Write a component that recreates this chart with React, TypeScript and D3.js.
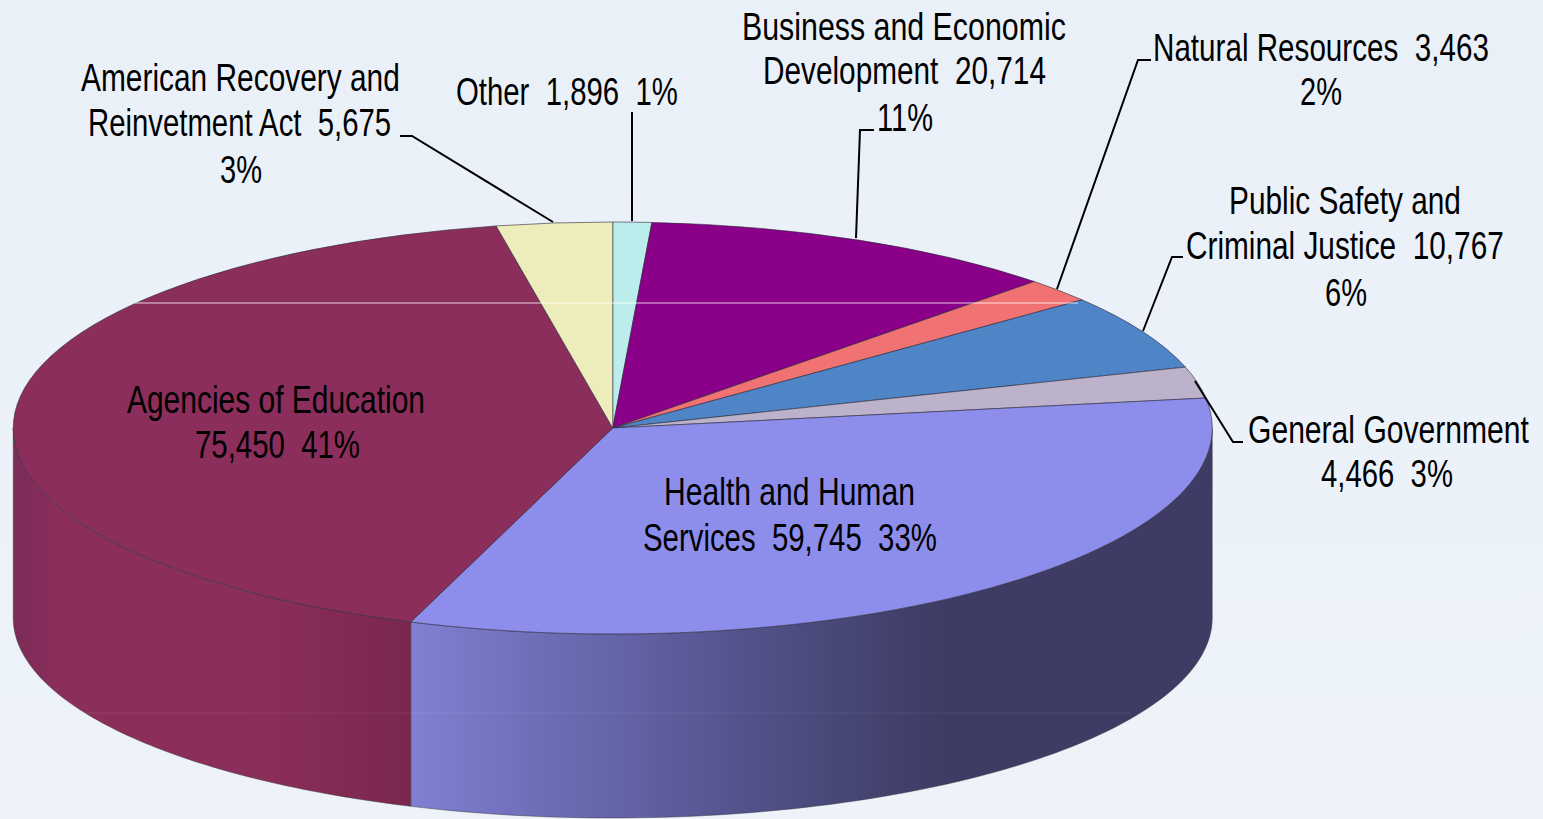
import React from "react";
import * as d3 from "d3";

// ---- data, clockwise from the top of the pie ----
const categories = [
  "Other",
  "Business and Economic Development",
  "Natural Resources",
  "Public Safety and Criminal Justice",
  "General Government",
  "Health and Human Services",
  "Agencies of Education",
  "American Recovery and Reinvetment Act",
];
const amounts = [1896, 20714, 3463, 10767, 4466, 59745, 75450, 5675];
const percents = [1, 11, 2, 6, 3, 33, 41, 3];
const topColors = ["#BBEDEC", "#8B0089", "#F07272", "#4F84C7", "#BCB2CC", "#8D8DEB", "#8B2E5B", "#EDEDBB"];

// label lines; {v} and {p} are replaced by the amount and the percent
const labelLines: string[][] = [
  ["Other  {v}  {p}%"],
  ["Business and Economic", "Development  {v}", "{p}%"],
  ["Natural Resources  {v}", "{p}%"],
  ["Public Safety and", "Criminal Justice  {v}", "{p}%"],
  ["General Government", "{v}  {p}%"],
  ["Health and Human", "Services  {v}  {p}%"],
  ["Agencies of Education", "{v}  {p}%"],
  ["American Recovery and", "Reinvetment Act  {v}", "{p}%"],
];

// ---- layout (x0, x1, baseline for each line) ----
const labelBoxes: [number, number, number][][] = [
  [[456, 678, 105]],
  [[742, 1066, 40], [763, 1046, 84], [877, 933, 131]],
  [[1153, 1489, 61], [1300, 1342, 105]],
  [[1229, 1461, 214], [1186, 1504, 259], [1325, 1367, 306]],
  [[1248, 1529, 443], [1321, 1453, 487]],
  [[664, 915, 505], [643, 937, 551]],
  [[127, 425, 413], [195, 360, 458]],
  [[81, 400, 91], [88, 393, 136], [220, 262, 183]],
];
const leaders: [number, number][][] = [
  [[632, 112], [632, 221]],
  [[874, 130], [860, 130], [856, 238]],
  [[1151, 60], [1138, 60], [1057, 289]],
  [[1183, 257], [1172, 257], [1143, 331]],
  [[1243, 442], [1233, 442], [1195, 381]],
  [[400, 136], [412, 136], [553, 222]],
];

const W = 1543;
const H = 819;
const cx = 612.75;
const cy = 428;
const rx = 599.5;
const ry = 206;
const bottomCy = 618;
const bottomRy = 200;
const FONT_SIZE = 38;
const FONT_FAMILY = "'Liberation Sans', Arial, sans-serif";

const pieGen = d3.pie<number>().sort(null).value((d) => d).startAngle(0).endAngle(2 * Math.PI);
const arcs = pieGen(amounts);
const arcGen = d3.arc<d3.PieArcDatum<number>>().innerRadius(0).outerRadius(rx);

const fmt = d3.format(",");

const measureCtx = document.createElement("canvas").getContext("2d") as CanvasRenderingContext2D;
measureCtx.font = `${FONT_SIZE}px ${FONT_FAMILY}`;

function sidePath(a0: number, a1: number) {
  const s = Math.max(a0, Math.PI / 2);
  const e = Math.min(a1, (3 * Math.PI) / 2);
  if (e <= s) return null;
  const angles = d3.range(0, 81).map((i) => s + ((e - s) * i) / 80);
  const top = angles.map((a) => [cx + rx * Math.sin(a), cy - ry * Math.cos(a)] as [number, number]);
  const bottom = angles
    .slice()
    .reverse()
    .map((a) => [cx + rx * Math.sin(a), bottomCy - bottomRy * Math.cos(a)] as [number, number]);
  return d3.line()([...top, ...bottom]) + "Z";
}

const lineGen = d3.line();

export default function App() {
  return (
    <svg
      width={W}
      height={H}
      viewBox={`0 0 ${W} ${H}`}
      style={{ position: "fixed", left: 0, top: 0, display: "block" }}
      fontFamily={FONT_FAMILY}
    >
      <defs>
        <linearGradient id="bg" x1="0" y1="0" x2="0" y2="1">
          <stop offset="0" stopColor="#EAF0F8" />
          <stop offset="1" stopColor="#EEF3FA" />
        </linearGradient>
        <linearGradient id="side5" gradientUnits="userSpaceOnUse" x1={412} x2={1212} y1={0} y2={0}>
          <stop offset="0" stopColor="#8080D2" />
          <stop offset="0.12" stopColor="#7272BE" />
          <stop offset="0.3" stopColor="#5F5FA0" />
          <stop offset="0.5" stopColor="#4A4A7C" />
          <stop offset="0.66" stopColor="#3E3C64" />
          <stop offset="1" stopColor="#3E3C64" />
        </linearGradient>
        <linearGradient id="side6" gradientUnits="userSpaceOnUse" x1={13} x2={412} y1={0} y2={0}>
          <stop offset="0" stopColor="#7C2B58" />
          <stop offset="0.12" stopColor="#8B2E5B" />
          <stop offset="0.6" stopColor="#8B2E5B" />
          <stop offset="1" stopColor="#7A274F" />
        </linearGradient>
      </defs>
      <rect x={0} y={0} width={W} height={H} fill="url(#bg)" />

      {/* side walls */}
      {arcs.map((a, i) => {
        const d = sidePath(a.startAngle, a.endAngle);
        return d ? (
          <path key={i} d={d} fill={`url(#side${i})`} stroke="#333" strokeOpacity={0.45} strokeWidth={1} />
        ) : null;
      })}
      <line x1={70} x2={1130} y1={713} y2={713} stroke="#fff" strokeOpacity={0.08} />

      {/* top face */}
      <g transform={`translate(${cx},${cy}) scale(1,${ry / rx})`}>
        {arcs.map((a, i) => (
          <path
            key={i}
            d={arcGen(a) as string}
            fill={topColors[i]}
            stroke="#2a2a3a"
            strokeOpacity={0.6}
            strokeWidth={1}
            vectorEffect="non-scaling-stroke"
          />
        ))}
      </g>
      <line x1={135} x2={1078} y1={303} y2={303} stroke="#fff" strokeOpacity={0.8} strokeWidth={1} />

      {/* leader lines */}
      {leaders.map((pts, i) => (
        <path key={i} d={lineGen(pts) as string} fill="none" stroke="#000" strokeWidth={2} />
      ))}

      {/* labels: condensed horizontally to the width */}
      {labelLines.map((lines, i) =>
        lines.map((t, j) => {
          const [x0, x1, y] = labelBoxes[i][j];
          const s = t.replace("{v}", fmt(amounts[i])).replace("{p}", String(percents[i]));
          const sx = (x1 - x0) / measureCtx.measureText(s).width;
          return (
            <text
              key={`${i}-${j}`}
              transform={`translate(${x0},${y}) scale(${sx},1)`}
              fontSize={FONT_SIZE}
              fill="#000"
              style={{ whiteSpace: "pre" }}
            >
              {s}
            </text>
          );
        })
      )}
    </svg>
  );
}
